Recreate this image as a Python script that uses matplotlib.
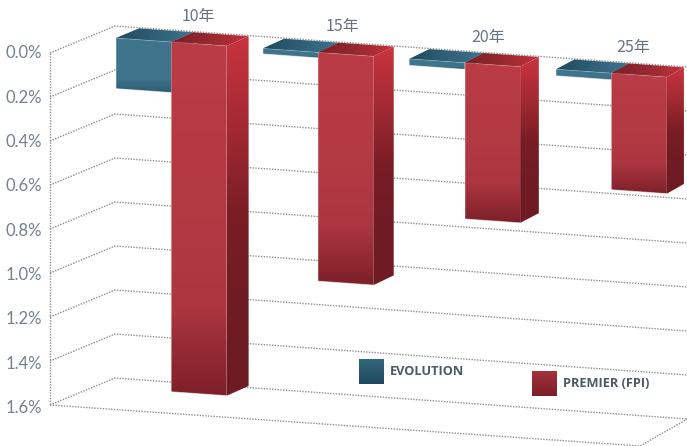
import numpy as np
import matplotlib
matplotlib.use("Agg")
import matplotlib.pyplot as plt
from matplotlib.colors import LinearSegmentedColormap
from matplotlib.patches import Polygon

categories = ["10年", "15年", "20年", "25年"]
evolution = [0.23, 0.025, 0.03, 0.03]
premier = [1.59, 1.04, 0.71, 0.53]
ticks = [0.0, 0.2, 0.4, 0.6, 0.8, 1.0, 1.2, 1.4, 1.6]


def project(x, v, d):
    # fake perspective: x = floor position, v = percent (downwards), d = depth 0..1
    px = np.asarray(x, dtype=float)
    sx = px + d * (65 - 0.03 * (px - 50))
    sy = 53 + 220 * np.asarray(v, dtype=float) + 0.0695 * (px - 50) - 27 * d
    return sx, sy


def cat_x(i, s):
    return 76 + 149.5 * i + 56.5 * s


def cmap(stops):
    return LinearSegmentedColormap.from_list("", stops)


def grad_poly(ax, pts, stops, horizontal=False, zorder=3):
    pts = np.array(pts)
    x0, x1 = pts[:, 0].min(), pts[:, 0].max()
    y0, y1 = pts[:, 1].min(), pts[:, 1].max()
    g = np.linspace(0, 1, 256)
    g = g[None, :] if horizontal else g[:, None]
    im = ax.imshow(g, cmap=cmap(stops), extent=(x0, x1, y1, y0), aspect="auto",
                   origin="upper", zorder=zorder, interpolation="bilinear")
    poly = Polygon(pts, closed=True, transform=ax.transData, fc="none", ec="none")
    ax.add_patch(poly)
    im.set_clip_path(poly)


def bar(ax, i, s, val, front, side, top, zorder):
    d0, d1 = 0.62, 0.98
    xl, xr = cat_x(i, s), cat_x(i, s + 1)
    a = project(xl, 0, d0)
    b = project(xr, 0, d0)
    c = project(xr, val, d0)
    e = project(xl, val, d0)
    f = project(xr, 0, d1)
    g = project(xr, val, d1)
    h = project(xl, 0, d1)
    grad_poly(ax, [a, b, c, e], front, zorder=zorder)
    grad_poly(ax, [b, f, g, c], side, zorder=zorder)
    grad_poly(ax, [a, h, f, b], top, horizontal=True, zorder=zorder)
    # pale highlight along the lower edge and front corners
    ax.plot(*zip(e, c), color="white", lw=0.7, alpha=0.6, zorder=zorder + 0.1)
    ax.plot(*zip(a, b), color="white", lw=0.5, alpha=0.3, zorder=zorder + 0.1)
    ax.plot(*zip(a, e), color="white", lw=0.5, alpha=0.3, zorder=zorder + 0.1)


fig = plt.figure(figsize=(6.87, 4.46), dpi=100)
ax = fig.add_axes([0, 0, 1, 1])
grid = dict(color="#8f8f8f", lw=1.0, linestyle=(0, (1, 1)), zorder=1)

for t in ticks:
    p0 = project(50, t, 0)
    p1 = project(50, t, 1)
    p2 = project(640, t, 1)
    ax.plot(*zip(p0, p1, p2), **grid)
    ax.text(42, p0[1] + 0.5 + 1.6 * t, f"{t:.1f}%", ha="right", va="center",
            fontsize=12, color="#74828b", family="Lato")

# left edge and floor front edges
ax.plot(*zip(project(50, 0, 0), project(50, 1.6, 0)), **grid)
ax.plot(*zip(project(50, 1.6, 0), project(640, 1.6, 0), project(640, 1.6, 1)), **grid)

red_front = ["#bb3c47", "#b53a44", "#b33943", "#ab3640", "#7d2029"]
red_side = ["#c9343f", "#a32a33", "#7a1d25", "#6f1b23", "#6f1b23"]
red_top = ["#7a1e27", "#97282f", "#c3333e"]
blue_front = ["#3f748c", "#3f748c", "#3f748c", "#3f748c", "#2b5a70"]
blue_side = ["#3f748c", "#2b5a70"]
blue_top = ["#1f4a5d", "#2f6078", "#3f748c"]

for i in range(len(categories)):
    z = 3 + i
    bar(ax, i, 0, evolution[i], blue_front, blue_side, blue_top, z)
    bar(ax, i, 1, premier[i], red_front, red_side, red_top, z + 0.3)
    lx, ly = project(cat_x(i, 1) + 3, -0.07, 1)
    ax.text(lx, ly, categories[i], ha="center", va="center", fontsize=11.5,
            color="#66757f", family=["Noto Sans CJK JP", "DejaVu Sans"])

# legend
legend = [("EVOLUTION", 359, 359, ["#34677d", "#1f4a5d"]),
          ("PREMIER (FPI)", 532, 371, ["#a5323c", "#7a1f28"])]
for name, lx, ly, stops in legend:
    grad_poly(ax, [(lx, ly), (lx + 25, ly), (lx + 25, ly + 25), (lx, ly + 25)], stops, zorder=10)
    ax.text(lx + 31, ly + 12.5, name, ha="left", va="center", fontsize=9.2,
            fontweight="bold", color="#4a5a66", family="Open Sans")

ax.set_xlim(0, 687)
ax.set_ylim(446, 0)
ax.axis("off")
fig.savefig("out.png", dpi=100, facecolor="white")
